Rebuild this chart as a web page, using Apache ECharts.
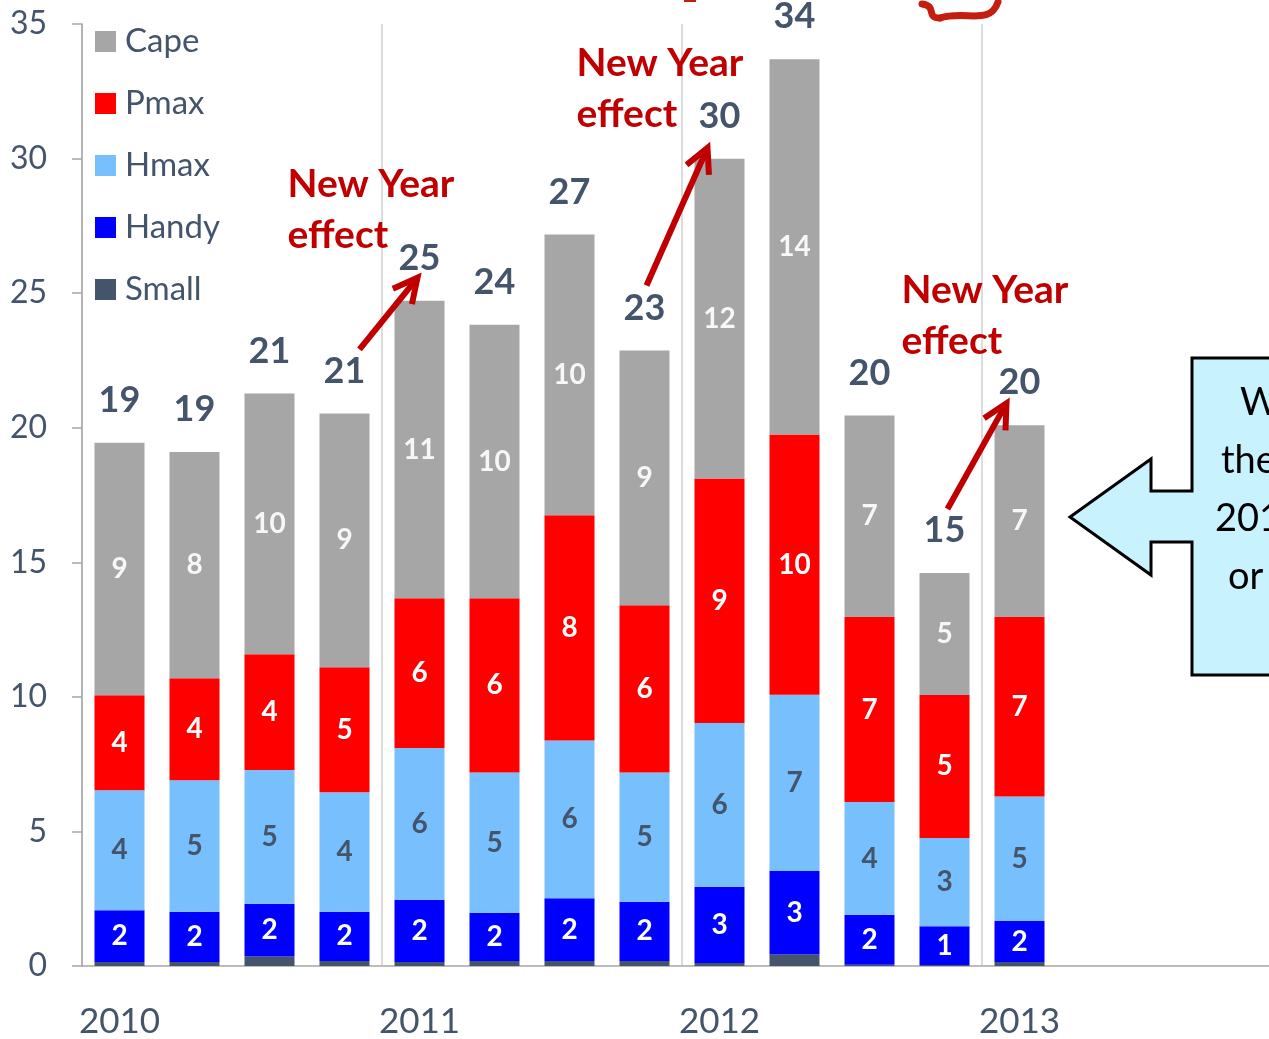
<!DOCTYPE html>
<html>
<head>
<meta charset="utf-8">
<script src="https://cdn.jsdelivr.net/npm/echarts@6/dist/echarts.min.js"></script>
<style>
  html, body { margin: 0; padding: 0; background: #fff; overflow: hidden; }
  #chart { width: 1320px; height: 1039px; }
</style>
</head>
<body>
<div id="chart"></div>
<script>
// Quarterly deliveries by size class (2010 Q1 – 2013 Q1); the axis runs on to 2013 Q4
const quarters = [
  '2010 Q1', '2010 Q2', '2010 Q3', '2010 Q4',
  '2011 Q1', '2011 Q2', '2011 Q3', '2011 Q4',
  '2012 Q1', '2012 Q2', '2012 Q3', '2012 Q4',
  '2013 Q1', '2013 Q2', '2013 Q3', '2013 Q4'
];
const small = [0.15, 0.15, 0.35, 0.19, 0.15, 0.19, 0.19, 0.19, 0.11, 0.43, 0.05, 0.04, 0.15];
const handy = [1.92, 1.87, 1.96, 1.83, 2.31, 1.79, 2.33, 2.20, 2.83, 3.10, 1.85, 1.44, 1.52];
const hmax  = [4.46, 4.88, 4.97, 4.44, 5.64, 5.21, 5.86, 4.80, 6.09, 6.55, 4.19, 3.28, 4.63];
const pmax  = [3.53, 3.79, 4.30, 4.64, 5.56, 6.47, 8.37, 6.21, 9.08, 9.67, 6.88, 5.31, 6.67];
const cape  = [9.38, 8.41, 9.69, 9.43, 11.06, 10.17, 10.43, 9.47, 11.88, 13.94, 7.48, 4.53, 7.12];
const legendOrder = ['Cape', 'Pmax', 'Hmax', 'Handy', 'Small'];
const noteText = 'New Year\neffect';
const calloutLines = ['W', 'the', '201', 'or'];

// Year-end to new-year jumps: arrow from one quarter's total to the next
const jumps = [
  { from: 3,  to: 4,  start: [15, -21], tip: [-2, 20],  note: [-132, -99] },
  { from: 7,  to: 8,  start: [2, -22],  tip: [-12, 32], note: [-143, -78] },
  { from: 11, to: 12, start: [3, -21],  tip: [-13, 21], note: [-118, -117] }
];

const totals = small.map((_, i) => small[i] + handy[i] + hmax[i] + pmax[i] + cape[i]);

const FONT = 'Lato, "Open Sans", sans-serif';
const SLATE = '#44546A';
const RED = '#C00000';

function segLabel(color) {
  return {
    show: true,
    position: 'inside',
    color: color,
    fontFamily: FONT,
    fontWeight: 'bold',
    fontSize: 28,
    formatter: p => Math.round(p.value)
  };
}

function stackSeries(name, data, color, label) {
  return {
    name: name,
    type: 'bar',
    stack: 'total',
    barWidth: 50,
    data: data,
    itemStyle: { color: color },
    label: label || { show: false },
    silent: true
  };
}

const yearTick = (i) => i % 4 === 0;

const chart = echarts.init(document.getElementById('chart'), null, { renderer: 'canvas' });

chart.setOption({
  animation: false,
  backgroundColor: '#ffffff',
  textStyle: { fontFamily: FONT },
  grid: { left: 82, top: 24, width: 1200, height: 943, containLabel: false },
  legend: {
    data: legendOrder,
    orient: 'vertical',
    left: 90,
    top: 20,
    icon: 'rect',
    itemWidth: 21,
    itemHeight: 21,
    itemGap: 29,
    selectedMode: false,
    textStyle: {
      color: SLATE,
      fontFamily: FONT,
      fontSize: 33,
      lineHeight: 32,
      padding: [0, 0, 0, 4]
    }
  },
  xAxis: {
    type: 'category',
    data: quarters,
    boundaryGap: true,
    axisLine: { lineStyle: { color: '#A6A6A6', width: 1.5 } },
    axisTick: { interval: yearTick, length: 14, lineStyle: { color: '#A6A6A6', width: 1.5 } },
    splitLine: { show: true, interval: yearTick, lineStyle: { color: '#D0D0D0', width: 1.5 } },
    axisLabel: {
      interval: 0,
      margin: 38,
      color: SLATE,
      fontFamily: FONT,
      fontSize: 35,
      formatter: v => (v.endsWith('Q1') ? v.slice(0, 4) : '')
    }
  },
  yAxis: {
    type: 'value',
    min: 0,
    max: 35,
    interval: 5,
    axisLine: { show: true, lineStyle: { color: '#A6A6A6', width: 1.5 } },
    axisTick: { show: true, length: 10, lineStyle: { color: '#A6A6A6', width: 1.5 } },
    splitLine: { show: false },
    axisLabel: { margin: 35, color: SLATE, fontFamily: FONT, fontSize: 32 }
  },
  series: [
    stackSeries('Small', small, '#44546A'),
    stackSeries('Handy', handy, '#0000FF', segLabel('#FFFFFF')),
    stackSeries('Hmax', hmax, '#77BFFD', segLabel(SLATE)),
    stackSeries('Pmax', pmax, '#FF0000', segLabel('#FFFFFF')),
    stackSeries('Cape', cape, '#A6A6A6', segLabel('#F7F7F7')),
    {
      name: 'Total',
      type: 'scatter',
      data: totals,
      symbolSize: 1,
      itemStyle: { color: 'rgba(0,0,0,0)', opacity: 1 },
      silent: true,
      label: {
        show: true,
        position: 'top',
        distance: 24,
        color: SLATE,
        fontFamily: FONT,
        fontWeight: 'bold',
        fontSize: 36,
        formatter: p => Math.round(p.value)
      }
    }
  ]
});

// Annotations: red arrows + "New Year effect" notes anchored on the totals
function px(i, v) {
  return chart.convertToPixel({ xAxisIndex: 0, yAxisIndex: 0 }, [i, v]);
}
function labelCentre(i) {
  const p = px(i, totals[i]);
  return [p[0], p[1] - 43];
}

const elements = [];
jumps.forEach(j => {
  const a = labelCentre(j.from), b = labelCentre(j.to);
  const s = [a[0] + j.start[0], a[1] + j.start[1]];
  const t = [b[0] + j.tip[0], b[1] + j.tip[1]];
  const dx = s[0] - t[0], dy = s[1] - t[1];
  const len = Math.hypot(dx, dy);
  const ux = dx / len, uy = dy / len;
  const ang = 27 * Math.PI / 180, arm = 27;
  const wing = (sgn) => [
    t[0] + arm * (ux * Math.cos(ang) - sgn * uy * Math.sin(ang)),
    t[1] + arm * (uy * Math.cos(ang) + sgn * ux * Math.sin(ang))
  ];
  elements.push({
    type: 'polyline', silent: true, z: 10,
    shape: { points: [s, [t[0] + ux * 3, t[1] + uy * 3]] },
    style: { stroke: RED, lineWidth: 6, fill: null }
  });
  elements.push({
    type: 'polyline', silent: true, z: 10,
    shape: { points: [wing(1), t, wing(-1)] },
    style: { stroke: RED, lineWidth: 6, fill: null, lineJoin: 'miter', lineCap: 'butt' }
  });
  elements.push({
    type: 'text', silent: true, z: 10,
    x: b[0] + j.note[0], y: b[1] + j.note[1],
    style: {
      text: noteText,
      fill: RED,
      font: 'bold 39px ' + FONT,
      lineHeight: 51,
      align: 'left',
      verticalAlign: 'top'
    }
  });
});

// Call-out box pointing left at the last quarter
elements.push({
  type: 'polygon', silent: true, z: 10,
  shape: {
    points: [[1192, 358], [1310, 358], [1310, 675], [1192, 675], [1192, 542], [1151, 542],
             [1151, 575], [1070, 517], [1151, 459], [1151, 491], [1192, 491]]
  },
  style: { fill: '#C9F2FF', stroke: '#000000', lineWidth: 3, lineJoin: 'miter' }
});
const calloutX = [1240, 1221, 1215, 1228];
calloutLines.forEach((line, k) => {
  elements.push({
    type: 'text', silent: true, z: 11,
    x: calloutX[k], y: 403 + k * 58,
    style: { text: line, fill: '#000000', font: '38px ' + FONT, align: 'left', verticalAlign: 'middle' }
  });
});

// Tail of a red hand-drawn mark running in from above the plot
elements.push({
  type: 'line', silent: true, z: 10,
  shape: { x1: 684, y1: 0, x2: 696, y2: 0 },
  style: { stroke: '#C41E10', lineWidth: 4 }
});
elements.push({
  type: 'bezierCurve', silent: true, z: 10,
  shape: { x1: 922, y1: 4, cpx1: 938, cpy1: 6, cpx2: 925, cpy2: 18, x2: 940, y2: 18 },
  style: { stroke: '#C41E10', lineWidth: 7, fill: null, lineCap: 'round' }
});
elements.push({
  type: 'bezierCurve', silent: true, z: 10,
  shape: { x1: 940, y1: 18, cpx1: 965, cpy1: 10, cpx2: 990, cpy2: 26, x2: 998, y2: 2 },
  style: { stroke: '#C41E10', lineWidth: 7, fill: null, lineCap: 'round' }
});

chart.setOption({ graphic: { elements: elements } });
</script>
</body>
</html>
